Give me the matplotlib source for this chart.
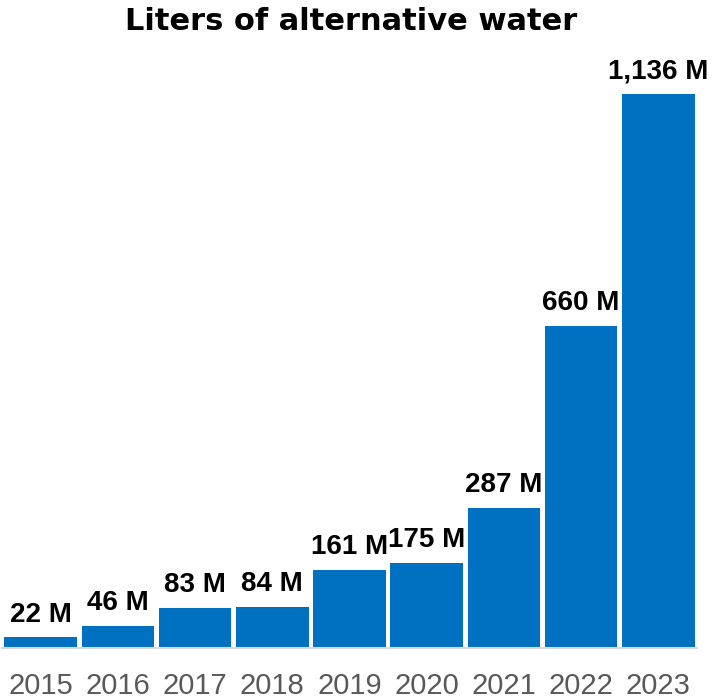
import matplotlib.pyplot as plt
import numpy as np

years = ['2015', '2016', '2017', '2018', '2019', '2020', '2021', '2022', '2023']
liters_m = [22, 46, 83, 84, 161, 175, 287, 660, 1136]
value_labels = ['22 M', '46 M', '83 M', '84 M', '161 M', '175 M', '287 M', '660 M', '1,136 M']

plt.rcParams['font.family'] = ['Liberation Sans', 'DejaVu Sans']

fig = plt.figure(figsize=(7.17, 7.0), dpi=100)
ax = fig.add_axes([2 / 717, 52 / 700, 695 / 717, 588 / 700])

x = np.arange(len(years))
bars = ax.bar(x, liters_m, width=0.94, color='#0070C0')

for rect, lab in zip(bars, value_labels):
    ax.annotate(lab, (rect.get_x() + rect.get_width() / 2, rect.get_height()),
                xytext=(0, 7), textcoords='offset points', ha='center', va='bottom',
                fontsize=20, fontweight='bold', color='black')

ax.set_xlim(-0.5, len(years) - 0.5)
ax.set_ylim(0, 1206)
ax.set_xticks(x)
ax.set_xticklabels(years, fontsize=21, color='#595959')
ax.tick_params(axis='x', length=0, pad=17)
ax.set_yticks([])
for side in ['top', 'left', 'right']:
    ax.spines[side].set_visible(False)
ax.spines['bottom'].set_color('#d9d9d9')
ax.spines['bottom'].set_linewidth(1.5)

fig.text(351 / 717, 1 - 22 / 700, 'Liters of alternative water', ha='center', va='center',
         fontsize=22, fontweight='bold', family=['DejaVu Sans'])

fig.savefig('out.png', dpi=100)
